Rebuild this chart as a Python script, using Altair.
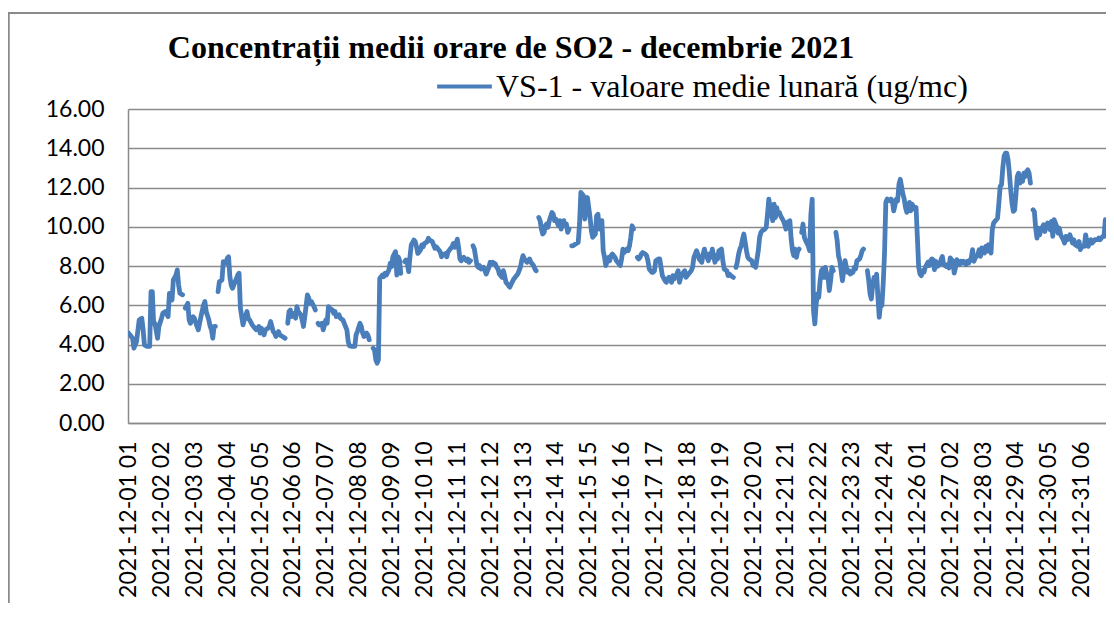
import altair as alt
import pandas as pd

TITLE = "Concentrații  medii orare de SO2 - decembrie 2021"
SERIES = "VS-1 - valoare medie lunară (ug/mc)"

# category labels shown on the x axis (every 25th hourly category)
x_labels = [
    "2021-12-01 01", "2021-12-02 02", "2021-12-03 03", "2021-12-04 04", "2021-12-05 05",
    "2021-12-06 06", "2021-12-07 07", "2021-12-08 08", "2021-12-09 09", "2021-12-10 10",
    "2021-12-11 11", "2021-12-12 12", "2021-12-13 13", "2021-12-14 14", "2021-12-15 15",
    "2021-12-16 16", "2021-12-17 17", "2021-12-18 18", "2021-12-19 19", "2021-12-20 20",
    "2021-12-21 21", "2021-12-22 22", "2021-12-23 23", "2021-12-24 24", "2021-12-26 01",
    "2021-12-27 02", "2021-12-28 03", "2021-12-29 04", "2021-12-30 05", "2021-12-31 06",
]
x_tick_hours = [0, 25, 50, 75, 100, 125, 150, 175, 200, 225, 250, 275, 300, 325, 350,
                375, 400, 425, 450, 475, 500, 525, 550, 575, 600, 625, 650, 675, 700, 725]
y_ticks = [0, 2, 4, 6, 8, 10, 12, 14, 16]

# hour of the month (0 = 2021-12-01 01) and hourly SO2 value;
# None marks a missing hour (break in the line)
hour_index = [
    0, 3, 4, 6, 8, 10, 11, 12, 14, 16, 17, 18, 19, 20, 22, 23, 25, 26, 28, 30, 31, 33, 34, 36, 37, 38, 39, 41, 42,
    43, 45, 46, 47, 49, 50, 52, 53, 55, 57, 58, 59, 61, 62, 63, 64, 65, 66, 67,
    68, 69, 71, 72, 74, 75, 76, 77, 78, 79, 81, 83, 84, 85, 87, 88, 90, 91, 92, 94, 96, 97, 99, 100, 101, 103,
    104, 106, 107, 108, 110, 111, 112, 114, 115, 117, 119, 120,
    121, 122, 123, 124, 126, 127, 128, 129, 131, 132, 133, 134, 136, 137, 138, 139, 141, 142, 143,
    144, 145, 147, 148, 150, 151, 152, 153, 155, 156, 157, 158, 160, 161, 163, 164, 166, 167, 168, 170, 172,
    173, 174, 176, 177, 178, 179, 181, 182, 183, 184,
    186, 187, 188, 189, 190, 191, 193, 194, 195, 196, 198, 199, 200, 201, 203, 204, 205, 206, 207, 208,
    210, 211, 212, 213, 214, 215, 217, 218, 219, 220, 222, 223, 224, 225, 227, 228, 229, 231, 232, 233, 234,
    236, 237, 238, 239, 241, 242, 243, 244, 246, 247, 248, 250, 251, 252, 253, 254, 255, 257, 258, 259, 260, 261,
    262, 263, 264, 265, 266, 267, 268, 270, 271, 272, 274, 275, 276, 277, 279, 280, 281, 282, 284, 285, 286,
    287, 289, 290, 291, 293, 294, 295, 296, 298, 299, 300, 301, 303, 304, 305, 306, 308, 309, 310, 311,
    312, 313, 314, 315, 316, 317, 318, 319, 320, 322, 323, 324, 325, 327, 328, 329, 331, 332, 333, 334, 335, 336,
    337, 338, 340, 342, 343, 344, 346, 347, 348, 349, 351, 352, 353, 355, 356, 357, 358, 360, 361, 362, 363,
    365, 366, 367, 368, 370, 371, 372, 374, 375, 376, 377, 379, 380, 381, 382, 383, 384, 385,
    387, 388, 389, 390, 391, 393, 394, 395, 396, 398, 399, 400, 401, 403, 404, 405, 406, 408, 409, 410, 411,
    413, 414, 415, 417, 418, 419, 420, 422, 423, 424, 425, 427, 428, 429, 430, 432, 433, 434, 436, 437, 438,
    439, 441, 442, 443, 444, 446, 447, 448, 449, 451, 452, 453, 455, 456, 457, 458, 460, 461,
    462, 463, 464, 465, 466, 467, 468, 469, 470, 471, 472, 474, 475, 476, 477, 479, 480, 481, 482, 484, 485,
    486, 487, 488, 490, 491, 492, 493, 494, 495, 496, 498, 499, 500, 501, 503, 504, 505, 506, 507, 508, 509,
    510, 511,
    512, 513, 514, 515, 517, 518, 519, 520, 521, 522, 523, 524, 525, 526, 527, 528, 529, 530, 531, 532, 533,
    534, 535, 536, 537,
    538, 539, 540, 541, 542, 543, 544, 545, 546, 547, 548, 549, 551, 552, 553, 554, 556, 557, 558, 559, 560,
    562, 563, 564, 565, 566, 567, 568, 569, 570, 571, 572, 573, 574, 575, 576, 577, 579, 580, 581, 582, 584,
    585, 586, 587, 589, 590, 591, 592, 594, 595, 596, 598, 599, 600, 601, 602, 603, 604, 605, 606, 608, 609,
    610, 611, 612, 613, 614, 615, 617, 618, 619, 620, 622, 623, 624, 625, 627, 628, 629, 630, 632, 633, 634,
    635, 637, 638, 639, 641, 642, 643, 644, 646, 647, 648, 649, 651, 652, 653, 654, 656, 657, 658, 660, 661,
    662, 663, 664, 665, 666, 667, 668, 669, 670, 671, 672, 673, 674, 675, 676, 677, 678, 679, 680, 681, 682,
    683, 684, 685, 686, 687,
    688, 689, 690, 691, 692, 693, 694, 696, 697, 698, 699, 701, 702, 703, 704, 706, 707, 708, 709, 711, 712,
    713, 714, 715, 716, 718, 719, 720, 722, 723, 724, 725, 727, 728, 729, 730, 732, 733, 734, 735, 737, 738,
    739, 741, 742, 743,
]
so2 = [
    4.58, 4.32, 3.81, 4.15, 5.25, 5.34, 4.75, 3.98, 3.90, 3.90, 6.69, 6.69, 5.08, 5.08, 4.32, 4.92, 5.34, 5.59, 5.68, 5.42, 6.61, 6.27, 7.29, 7.54, 7.80, 7.03, 6.61, 6.53, None,
    5.85, 6.10, 5.25, 5.08, 5.42, 5.34, 4.92, 4.75, 5.42, 6.02, 6.19, 5.68, 5.25, 4.92, 4.75, 4.32, 4.92, 4.92, None,
    6.69, 7.20, 7.29, 8.22, 8.14, 8.39, 8.47, 7.46, 7.03, 6.86, 7.20, 7.54, 7.63, 5.85, 5.00, 5.25, 5.68, 5.34, 5.25, 5.00, 4.83, 4.75, 4.92, 4.58, 4.83, 4.49,
    4.75, 4.83, 4.92, 5.17, 4.66, 4.58, 4.41, 4.66, 4.49, 4.41, 4.32, None,
    5.08, 5.68, 5.76, 5.42, 5.59, 5.34, 5.93, 5.68, 5.51, 5.25, 4.92, 5.42, 6.53, 6.36, 6.10, 6.19, 5.93, 5.76, None,
    5.08, 5.00, 5.08, 4.75, 5.25, 5.08, 5.93, 5.85, 5.76, 5.59, 5.68, 5.42, 5.51, 5.34, 5.25, 5.08, 4.75, 4.15, 3.93, 3.90, 3.90,
    4.49, 4.66, 5.08, 4.92, 4.58, 4.41, 4.58, 4.49, 4.24, None,
    3.81, 3.73, 3.22, 3.05, 3.22, 7.37, 7.54, 7.46, 7.63, 7.54, 7.80, 8.14, 7.97, 8.47, 8.73, 7.54, 8.47, 8.31, 7.63, None,
    8.22, 8.31, 8.14, 7.71, 8.47, 9.07, 9.32, 9.24, 8.98, 8.64, 8.81, 9.07, 8.98, 9.15, 9.24, 9.41, 9.32, 9.24, 9.07, 8.90, 8.98,
    8.81, 8.73, 8.47, 8.56, 8.64, 8.47, 8.73, 8.81, 8.98, 9.15, 8.95, 9.37, 8.95, 8.36, 8.27, 8.36, 8.44, 8.27, 8.36, 8.19, 8.27, None,
    9.03, 8.86, 8.44, 8.02, 7.93, 8.02, 7.85, 7.93, 7.76, 7.59, 7.93, 8.19, 8.10, 8.19, 8.10, 7.93, 7.85, 7.59, 7.42, 7.76, 7.51,
    7.17, 7.00, 6.92, 7.08, 7.34, 7.42, 7.51, 7.59, 7.93, 8.27, 8.53, 8.36, 8.19, 8.27, 8.36, 8.19, 8.02, 7.85, 7.76, None,
    10.47, 10.31, 9.88, 9.63, 9.71, 10.05, 10.14, 9.97, 10.31, 10.73, 10.64, 10.31, 10.39, 10.05, 10.31, 9.88, 10.31, 10.05, 10.14, 9.71, 9.88, None,
    9.03, 9.03, 9.12, 9.20, 10.14, 11.75, 11.58, 10.39, 11.15, 11.49, 10.47, 9.80, 9.46, 9.63, 10.56, 10.64, 9.88, 10.31, 8.78, 8.44, 8.02,
    8.44, 8.27, 8.53, 8.61, 8.44, 8.27, 8.19, 8.02, 8.36, 8.86, 8.69, 8.86, 8.78, 9.03, 9.46, 10.05, 9.88, None,
    8.44, 8.36, 8.44, 8.61, 8.69, 8.61, 8.53, 8.27, 7.85, 7.68, 7.68, 7.76, 8.27, 8.36, 8.36, 7.93, 7.51, 7.25, 7.17, 7.34, 7.42,
    7.17, 7.51, 7.34, 7.59, 7.76, 7.17, 7.42, 7.68, 7.76, 7.42, 7.51, 7.68, 7.76, 7.93, 8.44, 8.78, 8.61, 8.36, 8.19, 8.61, 8.86,
    8.61, 8.27, 8.61, 8.44, 8.86, 8.19, 8.53, 8.36, 8.78, 8.86, 8.27, 7.85, 7.76, 7.51, 7.59, 7.51, 7.42, None,
    7.93, 8.19, 8.61, 8.86, 9.03, 9.37, 9.63, 9.20, 8.78, 8.44, 8.36, 8.27, 8.02, 8.02, 7.93, 8.78, 9.46, 9.71, 9.80, 9.88, 9.97,
    10.64, 11.41, 10.98, 10.31, 11.15, 10.47, 10.98, 10.64, 10.73, 10.56, 10.31, 10.14, 9.88, 10.22, 10.31, 9.37, 8.78, 8.53, 8.86, 8.44, 8.78,
    8.86, None,
    9.71, 10.14, 9.46, 9.29, 9.03, 8.78, 10.64, 11.41, 5.73, 5.05, 6.07, 6.58, 6.40, 7.25, 7.76, 7.85, 7.42, 7.93, 7.59, 7.42, 6.75,
    7.25, 7.93, 7.76, None,
    9.71, 9.29, 8.53, 8.27, 7.76, 7.25, 7.76, 8.27, 7.93, 7.68, 7.76, 7.59, 7.68, 7.93, 7.85, 8.27, 8.36, 8.53, 8.78, 8.86, None,
    7.76, 7.25, 6.58, 6.32, 7.00, 7.42, 7.00, 7.59, 6.41, 5.39, 6.07, 5.98, 7.08, 8.61, 11.24, 11.41, 11.32, 11.41, 11.32, 10.81, 11.41,
    11.32, 12.17, 12.42, 11.66, 11.41, 10.98, 10.73, 11.24, 10.81, 11.15, 10.90, 10.98, 9.46, 7.93, 7.59, 7.51, 7.76, 7.68, 7.93, 8.19, 8.02,
    8.27, 8.36, 8.32, 7.81, 8.24, 7.98, 8.07, 8.32, 8.49, 8.07, 7.98, 8.07, 7.90, 8.41, 8.24, 7.64, 7.90, 8.32, 8.07, 8.24, 8.15,
    8.24, 8.07, 8.24, 8.15, 8.41, 8.83, 8.24, 8.41, 8.58, 8.83, 8.49, 8.92, 8.66, 9.00, 8.75, 9.08, 8.66, 9.85, 10.19, 10.36, 10.44,
    11.20, 12.05, 12.14, 13.00, 13.60, 13.75, 13.75, 13.41, 12.73, 11.88, 11.20, 10.78, 10.86, 11.63, 12.56, 12.73, 12.22, 12.56, 12.31, 12.73, 12.56,
    12.81, 12.90, 12.73, 12.22, None,
    10.86, 10.78, 9.93, 9.42, 9.93, 9.59, 9.85, 10.10, 9.76, 10.02, 10.19, 9.85, 10.27, 9.51, 10.36, 10.02, 9.68, 9.93, 9.59, 9.34, 9.17,
    9.51, 9.34, 9.42, 9.59, 9.17, 9.34, 9.08, 9.00, 9.25, 8.83, 9.00, 9.00, 9.59, 9.25, 9.00, 9.34, 9.17, 9.25, 9.34, 9.34, 9.42,
    9.34, 9.51, 9.51, 10.36,
]

rows = []
seg = 0
for h, v in zip(hour_index, so2):
    if v is None:
        seg += 1
        continue
    rows.append({"hour": h, "value": v, "seg": seg, "series": SERIES})
df = pd.DataFrame(rows)

label_expr = "[" + ",".join("'" + s + "'" for s in x_labels) + "][round(datum.value / 25)]"

GRID = "#8a8a8a"
AXFONT = "Lato"

line = alt.Chart(df).mark_line(
    strokeWidth=4.8, clip=True, strokeJoin="round", strokeCap="round"
).encode(
    x=alt.X(
        "hour:Q",
        scale=alt.Scale(domain=[-0.5, 743.5], nice=False, zero=False),
        axis=alt.Axis(
            values=x_tick_hours, labelExpr=label_expr, labelAngle=270, grid=False,
            ticks=False, tickSize=0, domainColor=GRID, domainWidth=1.5,
            labelFont=AXFONT, labelFontSize=23, labelColor="black", labelPadding=18,
            labelOverlap=False, labelBound=False, labelFlush=False, title=None,
        ),
    ),
    y=alt.Y(
        "value:Q",
        scale=alt.Scale(domain=[0, 16], nice=False),
        axis=alt.Axis(
            values=y_ticks, format=".2f", grid=True, gridColor=GRID, gridWidth=1.5,
            ticks=False, tickSize=0, domainColor=GRID, domainWidth=1.5,
            labelFont=AXFONT, labelFontSize=23, labelColor="black", labelPadding=24,
            title=None,
        ),
    ),
    detail="seg:N",
    color=alt.Color(
        "series:N",
        scale=alt.Scale(range=["#4a7ebb"]),
        legend=alt.Legend(
            orient="none", legendX=307, legendY=-52, title=None,
            symbolType="stroke", symbolSize=3000, symbolStrokeWidth=4,
            labelFont="Liberation Serif", labelFontSize=32, labelColor="black",
            labelLimit=0, labelOffset=2,
        ),
    ),
)

frame_df = pd.DataFrame({"k": [0]})
border_left = alt.Chart(frame_df).mark_rule(color="#8a8a8a", strokeWidth=2.5).encode(
    x=alt.value(-119.5), y=alt.value(-96), y2=alt.value(600)
)
border_top = alt.Chart(frame_df).mark_rule(color="#8a8a8a", strokeWidth=2).encode(
    x=alt.value(-120.5), x2=alt.value(1000), y=alt.value(-96)
)

chart = alt.layer(line, border_left, border_top).properties(
    width=978,
    height=314,
    padding={"left": 120, "top": 101, "right": 0, "bottom": 180},
    autosize=alt.AutoSizeParams(type="none"),
    title=alt.TitleParams(
        TITLE, font="Liberation Serif", fontSize=32, fontWeight="bold", color="black",
        anchor="middle", frame="group", dx=-106, dy=78, baseline="alphabetic", offset=0,
    ),
).configure_view(stroke=None).configure(background="white")

chart.save("out.html", embed_options={"renderer": "svg", "actions": False})
